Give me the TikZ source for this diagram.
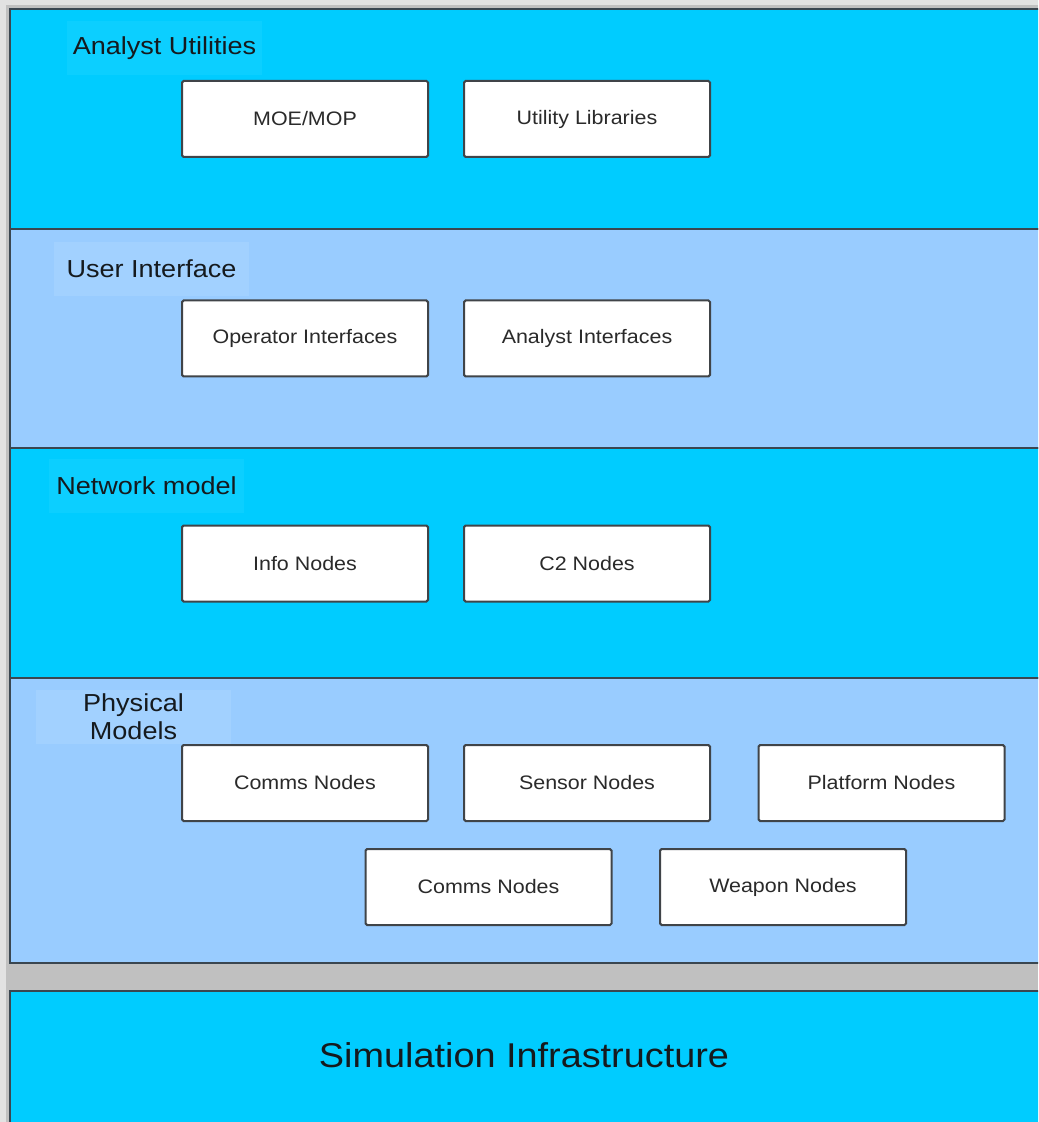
\documentclass[tikz,border=0pt]{standalone}
\usepackage{fontspec}
\setmainfont[FakeStretch=1.1]{Liberation Sans}
\definecolor{cyanpanel}{HTML}{00CCFF}
\definecolor{bluepanel}{HTML}{99CCFF}
\definecolor{cyanlabel}{HTML}{0CCFFF}
\definecolor{bluelabel}{HTML}{A2D1FF}
\definecolor{panelborder}{HTML}{3A4650}
\definecolor{boxborder}{HTML}{404448}
\definecolor{bgdark}{HTML}{C0C0C0}
\definecolor{bglight}{HTML}{E2E2E2}
\definecolor{boxtext}{HTML}{2A2A2A}
\definecolor{labeltext}{HTML}{151A1E}
\begin{document}
\begin{tikzpicture}[x=0.5pt,y=-0.5pt,
  panel/.style={draw=panelborder, line width=1pt},
  item/.style={draw=boxborder, fill=white, line width=1pt, rectangle, rounded corners=0.8pt,
    minimum width=123pt, minimum height=38pt, inner sep=0pt, outer sep=0pt,
    text=boxtext, font=\fontsize{9.75}{11}\selectfont},
  plabel/.style={rectangle, minimum width=97.5pt, minimum height=27pt, inner sep=0pt,
    text=labeltext, align=center, font=\fontsize{12.3}{14}\selectfont},
  biglabel/.style={text=labeltext, inner sep=0pt, font=\fontsize{17.2}{20}\selectfont}]
\useasboundingbox (0,0) rectangle (1038,1122);
\clip (0,0) rectangle (1038,1122);
% background
\fill[bgdark] (0,0) rectangle (1038,1122);
\fill[bglight] (0,0) rectangle (1038,5);
\fill[bglight] (0,0) rectangle (6,1122);
% panels
\draw[panel, fill=cyanpanel] (10,9) rectangle (1060,229);
\draw[panel, fill=bluepanel] (10,229) rectangle (1060,448);
\draw[panel, fill=cyanpanel] (10,448) rectangle (1060,678);
\draw[panel, fill=bluepanel] (10,678) rectangle (1060,963);
\draw[panel, fill=cyanpanel] (10,991) rectangle (1060,1140);
% panel labels
\node[plabel, fill=cyanlabel] (lau) at (164.5,48) {Analyst Utilities};
\node[plabel, fill=bluelabel] (lui) at (151.5,269) {User Interface};
\node[plabel, fill=cyanlabel] (lnm) at (146.5,486) {Network model};
\node[plabel, fill=bluelabel, font=\fontsize{12.3}{14}\selectfont] (lpm) at (133.5,716.5) {Physical\\Models};
% boxes
\node[item] (moe) at (305,119) {MOE/MOP};
\node[item] (util) at (587,119) {Utility Libraries};
\node[item] (opi) at (305,338.5) {Operator Interfaces};
\node[item] (ani) at (587,338.5) {Analyst Interfaces};
\node[item] (info) at (305,563.5) {Info Nodes};
\node[item] (c2) at (587,563.5) {C2 Nodes};
\node[item] (comms1) at (305,783) {Comms Nodes};
\node[item] (sensor) at (587,783) {Sensor Nodes};
\node[item] (platform) at (881.5,783) {Platform Nodes};
\node[item] (comms2) at (488.5,887) {Comms Nodes};
\node[item] (weapon) at (783,887) {Weapon Nodes};
% bottom
\node[biglabel] (sim) at (524,1055) {Simulation Infrastructure};
\end{tikzpicture}
\end{document}
